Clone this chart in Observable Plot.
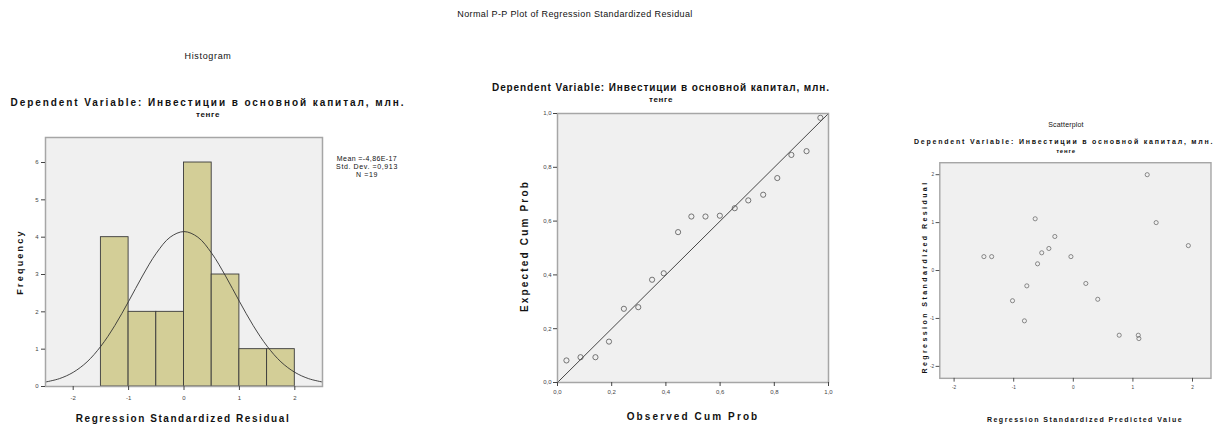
<!DOCTYPE html>
<html><head><meta charset="utf-8">
<script src="https://cdn.jsdelivr.net/npm/d3@7"></script>
<script src="https://cdn.jsdelivr.net/npm/@observablehq/plot@0.6"></script>
<style>
html,body{margin:0;padding:0;background:#fff}
body{width:1219px;height:427px;overflow:hidden;position:relative;font-family:"Liberation Sans",Arial,sans-serif;color:#111}
.t{position:absolute;white-space:nowrap;line-height:1;transform:translate(-50%,-50%)}
.tl{position:absolute;white-space:nowrap;line-height:1;transform:translate(0,-50%)}
.yl{position:absolute;white-space:nowrap;line-height:1;transform:translate(-50%,-50%) rotate(-90deg)}
.b{font-weight:bold}
.panel{position:absolute}
</style></head><body>
<script>
// ---------- data ----------
const mainTitle = "Normal P-P Plot of Regression Standardized Residual";
const depVar = "Dependent Variable: Инвестиции в основной капитал, млн.";
const depVar2 = "тенге";

// Histogram
const histBinStart = [-1.5, -1.0, -0.5, 0.0, 0.5, 1.0, 1.5];
const histBinEnd   = [-1.0, -0.5, 0.0, 0.5, 1.0, 1.5, 2.0];
const histCount    = [4, 2, 2, 6, 3, 1, 1];
const curveX = [-2.5,-2.25,-2,-1.75,-1.5,-1.25,-1,-0.75,-0.5,-0.25,0,0.25,0.5,0.75,1,1.25,1.5,1.75,2,2.25,2.5];
const curveY = [0.12,0.21,0.38,0.66,1.08,1.63,2.28,2.96,3.57,4.0,4.15,4.0,3.57,2.96,2.28,1.63,1.08,0.66,0.38,0.21,0.12];
const histXTicks = [-2,-1,0,1,2];
const histYTicks = [0,1,2,3,4,5,6];
const histStats = ["Mean =-4,86E-17", "Std. Dev. =0,913", "N =19"];

// P-P plot
const ppObserved = [0.033,0.085,0.14,0.19,0.245,0.298,0.349,0.392,0.445,0.494,0.546,0.599,0.654,0.704,0.759,0.811,0.863,0.919,0.97];
const ppExpected = [0.082,0.094,0.094,0.152,0.274,0.28,0.382,0.406,0.559,0.617,0.617,0.62,0.648,0.677,0.698,0.76,0.846,0.86,0.984];
const ppTicks = [0,0.2,0.4,0.6,0.8,1.0];
const ppRef = [0,1];

// Scatterplot
const scPredicted = [1.24,-0.64,1.39,-1.5,-1.37,-0.31,-0.41,-0.53,-0.6,-0.04,-0.78,-1.02,-0.82,0.21,0.41,0.77,1.09,1.1,1.93];
const scResidual  = [2.0,1.08,1.0,0.29,0.29,0.71,0.46,0.37,0.14,0.29,-0.32,-0.63,-1.05,-0.27,-0.6,-1.35,-1.35,-1.42,0.52];
const scTicks = [-2,-1,0,1,2];

// ---------- helpers ----------
const FONT = "Liberation Sans, Arial, sans-serif";
function addText(cls, txt, x, y, size, width, bold) {
  const d = document.createElement("div");
  d.className = cls + (bold ? " b" : "");
  d.textContent = txt;
  d.style.left = x + "px"; d.style.top = y + "px"; d.style.fontSize = size + "px";
  document.body.appendChild(d);
  if (width) {
    const w = d.offsetWidth;
    d.style.letterSpacing = ((width - w) / txt.length) + "px";
  }
  return d;
}
function place(svg, left, top) {
  const wrap = document.createElement("div");
  wrap.className = "panel";
  wrap.style.left = left + "px"; wrap.style.top = top + "px";
  wrap.appendChild(svg);
  document.body.appendChild(wrap);
}
const FRAME_FILL = "#f0f0f0", FRAME_STROKE = "#a6a6a6";
const fmtInt = d => String(d);
const fmtComma = d => d.toFixed(1).replace(".", ",");

// ---------- Histogram ----------
const hIdx = d3.range(histCount.length);
const cIdx = d3.range(curveX.length);
const hist = Plot.plot({
  width: 420, height: 307, marginLeft: 45, marginRight: 98, marginTop: 17, marginBottom: 41,
  style: {fontFamily: FONT, fontSize: "6px", background: "transparent", color: "#444"},
  x: {domain: [-2.5, 2.5]}, y: {domain: [0, 6.67]},
  marks: [
    Plot.frame({fill: FRAME_FILL}),
    Plot.rectY(hIdx, {x1: i => histBinStart[i], x2: i => histBinEnd[i], y: i => histCount[i], fill: "#d3ce97", stroke: "#3a3a3a", strokeWidth: 0.9}),
    Plot.line(cIdx, {x: i => curveX[i], y: i => curveY[i], curve: "catmull-rom", stroke: "#333", strokeWidth: 0.9}),
    Plot.frame({stroke: FRAME_STROKE, strokeWidth: 1.5}),
    Plot.axisX({ticks: histXTicks, tickFormat: fmtInt, tickSize: 4, tickPadding: 5, label: null, fontSize: 6}),
    Plot.axisY({ticks: histYTicks, tickFormat: fmtInt, tickSize: 4, tickPadding: 3, label: null, fontSize: 6})
  ]
});
place(hist, 0, 120);

// ---------- P-P ----------
const pIdx = d3.range(ppObserved.length);
const pp = Plot.plot({
  width: 370, height: 322, marginLeft: 77, marginRight: 22, marginTop: 8, marginBottom: 45,
  style: {fontFamily: FONT, fontSize: "6px", background: "transparent", color: "#444"},
  x: {domain: [0, 1]}, y: {domain: [0, 1]},
  marks: [
    Plot.frame({fill: FRAME_FILL}),
    Plot.line(ppRef, {x: d => d, y: d => d, stroke: "#333", strokeWidth: 0.9}),
    Plot.dot(pIdx, {x: i => ppObserved[i], y: i => ppExpected[i], r: 2.6, stroke: "#555", strokeWidth: 0.8}),
    Plot.frame({stroke: FRAME_STROKE, strokeWidth: 1.5}),
    Plot.axisX({ticks: ppTicks, tickFormat: fmtComma, tickSize: 4, tickPadding: 3, label: null, fontSize: 6}),
    Plot.axisY({ticks: ppTicks, tickFormat: fmtComma, tickSize: 4, tickPadding: 2, label: null, fontSize: 6})
  ]
});
place(pp, 480, 105);

// ---------- Scatter ----------
const sIdx = d3.range(scPredicted.length);
const sc = Plot.plot({
  width: 360, height: 277, marginLeft: 63, marginRight: 9, marginTop: 13, marginBottom: 35,
  style: {fontFamily: FONT, fontSize: "6px", background: "transparent", color: "#444"},
  x: {domain: [-2.24, 2.31]}, y: {domain: [-2.25, 2.25]},
  marks: [
    Plot.frame({fill: FRAME_FILL}),
    Plot.dot(sIdx, {x: i => scPredicted[i], y: i => scResidual[i], r: 2.2, stroke: "#555", strokeWidth: 0.7}),
    Plot.frame({stroke: FRAME_STROKE, strokeWidth: 1.5}),
    Plot.axisX({ticks: scTicks, tickFormat: fmtInt, tickSize: 4, tickPadding: 4, label: null, fontSize: 5}),
    Plot.axisY({ticks: scTicks, tickFormat: fmtInt, tickSize: 4, tickPadding: 2, label: null, fontSize: 5})
  ]
});
place(sc, 880, 150);

// ---------- titles & labels ----------
addText("t", mainTitle, 575, 14, 9, 235, false);

addText("t", "Histogram", 208, 56, 9, 47, false);
addText("t", depVar, 208, 103, 10, 395, true);
addText("t", depVar2, 208, 115, 8, 24, true);
histStats.forEach((s, i) => addText("t", s, 367, 158 + i * 8, 7, [60, 62, 22][i], false));
addText("t", "Regression Standardized Residual", 183, 419, 10, 215, true);
addText("yl", "Frequency", 20, 262, 9, 66, true);

addText("t", depVar, 661, 88, 10, 338, true);
addText("t", depVar2, 661, 100, 8, 24, true);
addText("t", "Observed Cum Prob", 693, 417, 10, 133, true);
addText("yl", "Expected Cum Prob", 525, 246, 10, 132, true);

addText("t", "Scatterplot", 1066, 124, 7, 35, false);
addText("tl", depVar, 914, 141, 7, 300, true);
addText("t", depVar2, 1066, 151, 6, 20, true);
addText("t", "Regression Standardized Predicted Value", 1085, 419, 7, 196, true);
addText("yl", "Regression Standardized Residual", 924, 277, 7, 193, true);
</script>
</body></html>
